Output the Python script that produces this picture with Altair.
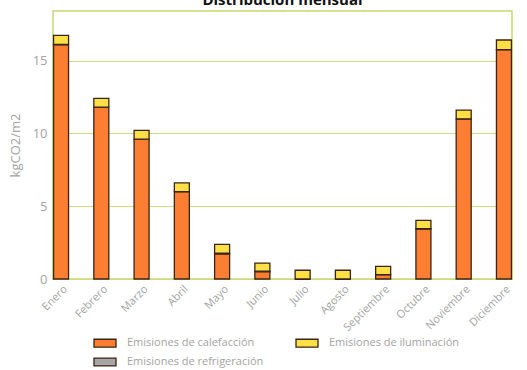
import altair as alt
import pandas as pd

months = ["Enero", "Febrero", "Marzo", "Abril", "Mayo", "Junio", "Julio",
          "Agosto", "Septiembre", "Octubre", "Noviembre", "Diciembre"]
calefaccion = [16.1, 11.8, 9.6, 6.0, 1.72, 0.5, 0.0, 0.0, 0.3, 3.45, 11.0, 15.75]
refrigeracion = [0, 0, 0, 0, 0.06, 0.04, 0, 0, 0, 0, 0, 0]
iluminacion = [0.63, 0.6, 0.6, 0.6, 0.6, 0.55, 0.6, 0.6, 0.57, 0.57, 0.6, 0.66]

# legend is filled column by column: col 1 = calefacción, refrigeración; col 2 = iluminación
series = ["Emisiones de calefacción", "Emisiones de refrigeración", "Emisiones de iluminación"]
colors = ["#fb7e33", "#a6a6a6", "#fde045"]
stack_order = {"Emisiones de calefacción": 0, "Emisiones de refrigeración": 1,
               "Emisiones de iluminación": 2}

rows = []
for i, m in enumerate(months):
    for s, vals in zip(series, [calefaccion, refrigeracion, iluminacion]):
        rows.append({"mes": m, "serie": s, "valor": vals[i], "orden": stack_order[s]})
df = pd.DataFrame(rows)

rect_path = "M-1,-0.36L1,-0.36L1,0.36L-1,0.36Z"

chart = alt.Chart(df).mark_bar(size=15, stroke="#3b2414", strokeWidth=1.3).encode(
    x=alt.X("mes:N", sort=months,
            scale=alt.Scale(type="point", padding=0.2),
            axis=alt.Axis(title=None, labelAngle=-45, labelColor="#a3a3a3",
                          labelFont="Open Sans", labelFontSize=11,
                          ticks=False, domain=False, labelPadding=4, grid=False)),
    y=alt.Y("valor:Q", stack="zero",
            scale=alt.Scale(domain=[0, 18.4], nice=False),
            axis=alt.Axis(title="kgCO2/m2", values=[0, 5, 10, 15],
                          titleColor="#a3a3a3", titleFont="Open Sans",
                          titleFontSize=13, titleFontWeight="normal",
                          labelColor="#a3a3a3", labelFont="Open Sans",
                          labelFontSize=13, labelPadding=6,
                          ticks=False, domain=False,
                          gridColor="#cfdc7e", gridWidth=1.2, titlePadding=10)),
    color=alt.Color("serie:N", scale=alt.Scale(domain=series, range=colors),
                    legend=alt.Legend(title=None, orient="none", legendX=40, legendY=320,
                                      columns=2, columnPadding=29, rowPadding=-1,
                                      symbolType=rect_path, symbolSize=484,
                                      symbolStrokeColor="#3b2414", symbolStrokeWidth=1.3,
                                      labelColor="#a3a3a3", labelFont="Open Sans",
                                      labelFontSize=11, labelOffset=10)),
    order=alt.Order("orden:Q"),
).properties(
    width=459, height=268,
    title=alt.TitleParams("Distribución mensual", font="Open Sans", fontSize=15,
                          fontWeight="bold", color="#111111", offset=0, dy=9,
                          baseline="alphabetic", anchor="middle"),
    autosize=alt.AutoSizeParams(type="none"),
    padding={"left": 53, "top": 11, "right": 15, "bottom": 91},
).configure_view(stroke="#c8d870", strokeWidth=1.5)

chart.save("out.html", embed_options={"renderer": "svg", "actions": False})
